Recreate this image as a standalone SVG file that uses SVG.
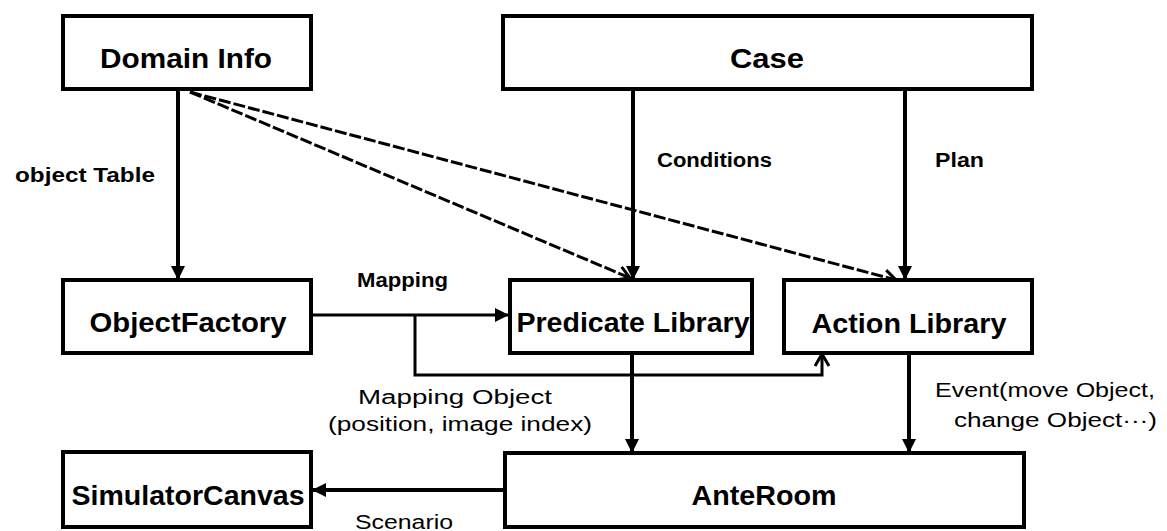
<svg xmlns="http://www.w3.org/2000/svg" width="1167" height="531" viewBox="0 0 1167 531">
  <style>
    .box { fill: #fff; stroke: #000; stroke-width: 4; }
    .title { font-family: "Liberation Sans", Arial, sans-serif; font-size: 27px; font-weight: bold; fill: #000; text-anchor: middle; }
    .lbl { font-family: "Liberation Sans", Arial, sans-serif; font-size: 20px; font-weight: bold; fill: #000; }
    .lbl-n { font-family: "Liberation Sans", Arial, sans-serif; font-size: 20px; font-weight: normal; fill: #000; }
    .solid { fill: none; stroke: #000; stroke-width: 4; }
    .thin { fill: none; stroke: #000; stroke-width: 3; }
    .dash { fill: none; stroke: #000; stroke-width: 3; stroke-dasharray: 12 3; }
  </style>
  <defs>
    <marker id="fill-arrow" markerUnits="userSpaceOnUse" markerWidth="14" markerHeight="14" viewBox="0 0 14 14" refX="14" refY="7" orient="auto">
      <path d="M0,0 L14,7 L0,14 z" fill="#000"/>
    </marker>
    <marker id="open-arrow" markerUnits="userSpaceOnUse" markerWidth="16" markerHeight="16" viewBox="0 0 16 16" refX="14" refY="8" orient="auto">
      <path d="M2,1 L14,8 L2,15" fill="none" stroke="#000" stroke-width="3"/>
    </marker>
  </defs>

  <g id="connectors">
    <path class="solid" d="M178,89 V280" marker-end="url(#fill-arrow)"/>
    <path class="solid" d="M633,89 V280" marker-end="url(#fill-arrow)"/>
    <path class="solid" d="M905,89 V280" marker-end="url(#fill-arrow)"/>
    <path class="dash" d="M190,92 L630,278" marker-end="url(#open-arrow)"/>
    <path class="dash" d="M190,92 L896,280" marker-end="url(#open-arrow)"/>
    <path class="thin" d="M311,315 H509" marker-end="url(#fill-arrow)"/>
    <path class="thin" d="M415,315 V375 H822 V354" marker-end="url(#open-arrow)"/>
    <path class="solid" d="M632,353 V453" marker-end="url(#fill-arrow)"/>
    <path class="solid" d="M909,353 V453" marker-end="url(#fill-arrow)"/>
    <path class="solid" d="M505,490 H312" marker-end="url(#fill-arrow)"/>
    <text class="lbl" x="15" y="182" textLength="140" lengthAdjust="spacingAndGlyphs">object Table</text>
    <text class="lbl" x="657" y="167" textLength="115" lengthAdjust="spacingAndGlyphs">Conditions</text>
    <text class="lbl" x="935" y="167" textLength="49" lengthAdjust="spacingAndGlyphs">Plan</text>
    <text class="lbl" x="357" y="287" textLength="91" lengthAdjust="spacingAndGlyphs">Mapping</text>
    <text class="lbl-n" x="358" y="404" textLength="194" lengthAdjust="spacingAndGlyphs">Mapping Object</text>
    <text class="lbl-n" x="328" y="431" textLength="264" lengthAdjust="spacingAndGlyphs">(position, image index)</text>
    <text class="lbl-n" x="935" y="397" textLength="220" lengthAdjust="spacingAndGlyphs">Event(move Object,</text>
    <text class="lbl-n" x="954" y="427" textLength="203" lengthAdjust="spacingAndGlyphs">change Object···)</text>
    <text class="lbl-n" x="355" y="529" textLength="98" lengthAdjust="spacingAndGlyphs">Scenario</text>
  </g>

  <g id="domain-info">
    <rect class="box" x="63" y="16" width="248" height="73"/>
    <text class="title" x="186" y="68" textLength="172" lengthAdjust="spacingAndGlyphs">Domain Info</text>
  </g>
  <g id="case">
    <rect class="box" x="503" y="16" width="529" height="73"/>
    <text class="title" x="767" y="68" textLength="74" lengthAdjust="spacingAndGlyphs">Case</text>
  </g>
  <g id="object-factory">
    <rect class="box" x="63" y="280" width="248" height="73"/>
    <text class="title" x="188" y="332" textLength="197" lengthAdjust="spacingAndGlyphs">ObjectFactory</text>
  </g>
  <g id="predicate-library">
    <rect class="box" x="510" y="280" width="242" height="73"/>
    <text class="title" x="633" y="332" textLength="233" lengthAdjust="spacingAndGlyphs">Predicate Library</text>
  </g>
  <g id="action-library">
    <rect class="box" x="784" y="280" width="248" height="73"/>
    <text class="title" x="909" y="333" textLength="195" lengthAdjust="spacingAndGlyphs">Action Library</text>
  </g>
  <g id="simulator-canvas">
    <rect class="box" x="63" y="452" width="248" height="75"/>
    <text class="title" x="188" y="505" textLength="233" lengthAdjust="spacingAndGlyphs">SimulatorCanvas</text>
  </g>
  <g id="ante-room">
    <rect class="box" x="505" y="453" width="519" height="74"/>
    <text class="title" x="764" y="505" textLength="145" lengthAdjust="spacingAndGlyphs">AnteRoom</text>
  </g>
</svg>
